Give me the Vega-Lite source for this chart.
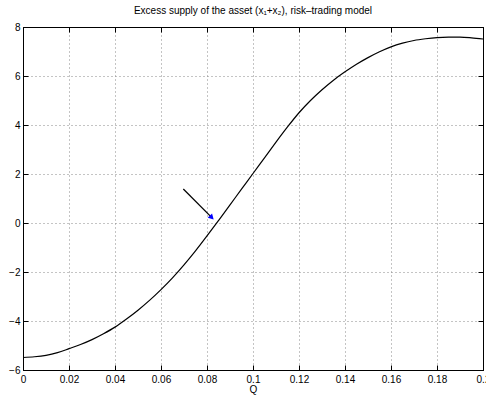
{
  "$schema": "https://vega.github.io/schema/vega-lite/v6.json",
  "autosize": "none",
  "width": 460,
  "height": 343,
  "padding": {"left": 23, "top": 27, "right": 3, "bottom": 27},
  "background": "white",
  "config": {
    "font": "Liberation Sans",
    "view": {"stroke": "black", "strokeWidth": 1},
    "axis": {
      "labelFont": "Liberation Sans",
      "labelFontSize": 10,
      "labelColor": "black",
      "titleFont": "Liberation Sans",
      "titleFontSize": 10,
      "titleFontWeight": "normal",
      "titleColor": "black",
      "domainColor": "black",
      "tickColor": "black",
      "gridColor": "#888",
      "gridDash": [1, 3],
      "gridOpacity": 1
    }
  },
  "title": {
    "text": "Excess supply of the asset (x₁+x₂), risk–trading model",
    "fontSize": 10,
    "fontWeight": "normal",
    "font": "Liberation Sans",
    "color": "black",
    "anchor": "middle",
    "offset": 6
  },
  "datasets": {
    "curve": [
      {"Q": 0.000, "S": -5.49},
      {"Q": 0.005, "S": -5.46},
      {"Q": 0.010, "S": -5.40},
      {"Q": 0.015, "S": -5.29},
      {"Q": 0.020, "S": -5.13},
      {"Q": 0.025, "S": -4.96},
      {"Q": 0.030, "S": -4.76},
      {"Q": 0.035, "S": -4.52},
      {"Q": 0.040, "S": -4.25},
      {"Q": 0.045, "S": -3.92},
      {"Q": 0.050, "S": -3.56},
      {"Q": 0.055, "S": -3.16},
      {"Q": 0.060, "S": -2.72},
      {"Q": 0.065, "S": -2.24},
      {"Q": 0.070, "S": -1.71},
      {"Q": 0.075, "S": -1.14},
      {"Q": 0.080, "S": -0.53},
      {"Q": 0.085, "S": 0.10},
      {"Q": 0.090, "S": 0.74},
      {"Q": 0.095, "S": 1.38},
      {"Q": 0.100, "S": 2.02},
      {"Q": 0.105, "S": 2.66},
      {"Q": 0.110, "S": 3.30},
      {"Q": 0.115, "S": 3.92},
      {"Q": 0.120, "S": 4.50},
      {"Q": 0.125, "S": 5.00},
      {"Q": 0.130, "S": 5.44},
      {"Q": 0.135, "S": 5.83},
      {"Q": 0.140, "S": 6.17},
      {"Q": 0.145, "S": 6.48},
      {"Q": 0.150, "S": 6.75},
      {"Q": 0.155, "S": 6.99},
      {"Q": 0.160, "S": 7.19},
      {"Q": 0.165, "S": 7.34},
      {"Q": 0.170, "S": 7.45},
      {"Q": 0.175, "S": 7.52},
      {"Q": 0.180, "S": 7.57},
      {"Q": 0.185, "S": 7.59},
      {"Q": 0.190, "S": 7.59},
      {"Q": 0.195, "S": 7.56},
      {"Q": 0.200, "S": 7.51}
    ],
    "arrow": [
      {"Q1": 0.0697, "S1": 1.39, "Q2": 0.0820, "S2": 0.23}
    ],
    "head": [
      {"Q": 0.0818, "S": 0.25}
    ]
  },
  "layer": [
    {
      "data": {"name": "curve"},
      "mark": {"type": "line", "color": "black", "strokeWidth": 1.2, "clip": true, "interpolate": "monotone"},
      "encoding": {
        "x": {
          "field": "Q", "type": "quantitative",
          "scale": {"domain": [0, 0.2], "nice": false, "zero": false},
          "axis": {
            "orient": "bottom", "title": "Q", "values": [0, 0.02, 0.04, 0.06, 0.08, 0.1, 0.12, 0.14, 0.16, 0.18, 0.2],
            "format": "~g", "grid": true, "tickSize": -5, "labelPadding": 9, "titlePadding": 0,
            "labelFlush": false, "labelOverlap": false, "labelBound": false
          }
        },
        "y": {
          "field": "S", "type": "quantitative",
          "scale": {"domain": [-6, 8], "nice": false, "zero": false},
          "axis": {
            "orient": "left", "title": null, "values": [-6, -4, -2, 0, 2, 4, 6, 8],
            "grid": true, "tickSize": -5, "labelPadding": 8, "labelFlush": false, "labelOverlap": false
          }
        }
      }
    },
    {
      "data": {"name": "arrow"},
      "mark": {"type": "rule", "color": "black", "strokeWidth": 1.3},
      "encoding": {
        "x": {
          "field": "Q1", "type": "quantitative",
          "axis": {"orient": "top", "title": null, "labels": false, "grid": false, "tickSize": -5,
                   "values": [0, 0.02, 0.04, 0.06, 0.08, 0.1, 0.12, 0.14, 0.16, 0.18, 0.2]}
        },
        "y": {
          "field": "S1", "type": "quantitative",
          "axis": {"orient": "right", "title": null, "labels": false, "grid": false, "tickSize": -5,
                   "values": [-6, -4, -2, 0, 2, 4, 6, 8]}
        },
        "x2": {"field": "Q2"},
        "y2": {"field": "S2"}
      }
    },
    {
      "data": {"name": "head"},
      "mark": {"type": "point", "shape": "triangle", "filled": true, "color": "blue", "opacity": 1, "size": 38, "angle": 135},
      "encoding": {
        "x": {"field": "Q", "type": "quantitative", "axis": null},
        "y": {"field": "S", "type": "quantitative", "axis": null}
      }
    }
  ],
  "resolve": {"axis": {"x": "independent", "y": "independent"}}
}
